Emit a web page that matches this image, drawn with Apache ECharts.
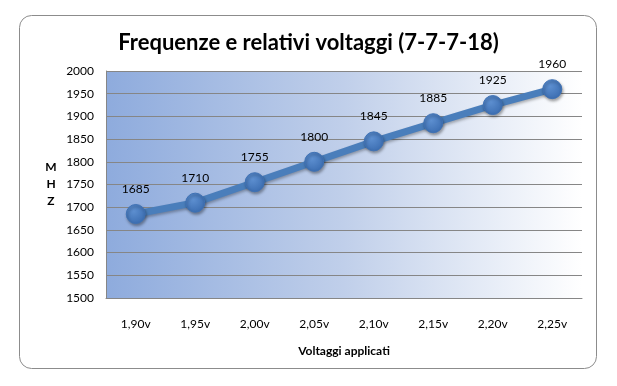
<!DOCTYPE html>
<html><head><meta charset="utf-8">
<script src="https://cdn.jsdelivr.net/npm/echarts@6/dist/echarts.min.js"></script>
<style>html,body{margin:0;padding:0;background:#fff}#c{width:617px;height:386px}</style>
</head><body><div id="c"></div>
<script>
const categories = ['1,90v','1,95v','2,00v','2,05v','2,10v','2,15v','2,20v','2,25v'];
const mhz = [1685,1710,1755,1800,1845,1885,1925,1960];
const titleText = 'Frequenze e relativi voltaggi (7-7-7-18)';
const xName = 'Voltaggi applicati';
const yName = 'M\nH\nZ';

const chart = echarts.init(document.getElementById('c'));
const F = 'Lato, "Open Sans", sans-serif';
chart.setOption({
  animation:false,
  graphic:[{type:'rect',shape:{x:19.5,y:15.5,width:577,height:353,r:12},style:{fill:'#fff',stroke:'#8c8c8c',lineWidth:1},z:-10}],
  title:{text:titleText,left:'center',top:27,textStyle:{fontFamily:F,fontSize:22,fontWeight:'bold',color:'#000'}},
  grid:{left:106,right:35,top:71,bottom:88,show:true,borderWidth:0,
    backgroundColor:new echarts.graphic.LinearGradient(0,0,1,0,[{offset:0,color:'#8eabdd'},{offset:0.5,color:'#c0cfea'},{offset:1,color:'#ffffff'}])},
  xAxis:{type:'category',data:categories,boundaryGap:true,
    axisLine:{lineStyle:{color:'#868686'}},axisTick:{show:false},
    axisLabel:{fontFamily:F,fontSize:12,color:'#000',margin:20},
    name:xName,nameLocation:'middle',nameGap:47,nameTextStyle:{fontFamily:F,fontSize:12,fontWeight:'bold',color:'#000'}},
  yAxis:{type:'value',min:1500,max:2000,interval:50,
    axisLine:{show:true,lineStyle:{color:'#868686'}},axisTick:{show:false},
    splitLine:{lineStyle:{color:'#868686'}},
    axisLabel:{fontFamily:F,fontSize:12,color:'#000',margin:12,formatter:v=>String(v)},
    name:yName,nameLocation:'middle',nameRotate:0,nameGap:55,nameTextStyle:{fontFamily:F,fontSize:12,fontWeight:'bold',color:'#000',lineHeight:17,align:'center'}},
  series:[{type:'line',data:mhz,symbol:'circle',symbolSize:19,
    lineStyle:{color:'#4a7ebb',width:7,shadowColor:'rgba(0,0,0,0.3)',shadowBlur:3,shadowOffsetY:2},
    itemStyle:{color:new echarts.graphic.RadialGradient(0.4,0.35,0.7,[{offset:0,color:'#5d8fd0'},{offset:1,color:'#3a6cb0'}]),
      borderColor:'#3f72b5',borderWidth:1,shadowColor:'rgba(0,0,0,0.35)',shadowBlur:3,shadowOffsetY:2,shadowOffsetX:1},
    label:{show:true,position:'top',distance:9,fontFamily:F,fontSize:12,color:'#000'}}]
});
</script></body></html>
